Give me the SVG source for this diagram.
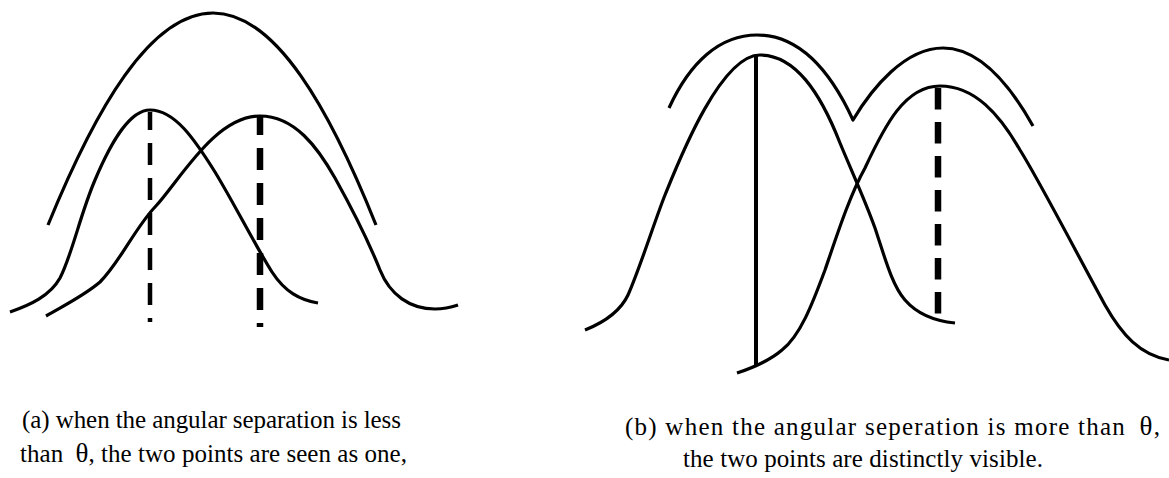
<svg xmlns="http://www.w3.org/2000/svg" width="1169" height="478" viewBox="0 0 1169 478">
<style>
.c{fill:none;stroke:#000;stroke-width:3.2;stroke-linecap:butt;stroke-linejoin:round}
.d{fill:none;stroke:#000;stroke-linecap:butt}
.t{font-family:"Liberation Serif","Times New Roman",serif;font-size:25px;fill:#000}
.g{font-size:27px}
</style>
<rect width="1169" height="478" fill="#fff"/>
<g id="panel-a">
  <g id="a-envelope"><path class="c" d="M48,225 C95,110 150,13 213,13 C276,13 330,110 376,225"/></g>
  <g id="a-left"><path class="c" d="M10,312 C30,305 50,296 60,278 C72,255 80,215 95,180 C112,140 130,110 150,110 C175,110 195,140 215,172 C235,205 255,245 272,272 C285,292 300,300 318,303"/></g>
  <g id="a-right"><path class="c" d="M46,316 C65,305 85,295 100,282 C120,262 135,228 155,207 C180,180 215,116 260,116 C295,116 318,148 335,178 C350,205 368,240 380,270 C390,295 410,309 435,309 C445,309 452,307 458,305"/></g>
</g>
<g id="panel-b">
  <g id="b-envelope"><path class="c" d="M669,108 C690,62 720,35 757,35 C800,35 830,70 853,120 C872,88 905,48 943,48 C980,48 1010,85 1033,126"/></g>
  <g id="b-left"><path class="c" d="M585,330 C605,322 620,312 628,295 C640,268 655,220 665,195 C678,163 720,55 760,55 C795,55 820,92 840,143 C852,172 865,200 875,228 C885,258 892,285 905,300 C918,315 935,321 955,323"/></g>
  <g id="b-right"><path class="c" d="M737,373 C752,368 768,362 782,350 C800,336 812,305 825,270 C838,232 850,195 865,168 C885,125 905,86 940,86 C975,86 1000,115 1020,150 C1040,182 1075,250 1105,305 C1122,335 1140,355 1169,360"/></g>
</g>
<g id="connectors">
  <line class="d" x1="150" y1="112" x2="150" y2="322" stroke-width="4.5" stroke-dasharray="22 13" stroke-dashoffset="4"/>
  <line class="d" x1="260" y1="116" x2="260" y2="327" stroke-width="6.5" stroke-dasharray="22 13" stroke-dashoffset="3"/>
  <line class="d" x1="756" y1="55" x2="756" y2="366" stroke-width="4"/>
  <line class="d" x1="938" y1="88" x2="938" y2="315" stroke-width="6.5" stroke-dasharray="21.5 12.5"/>
</g>
<g id="captions">
  <text class="t" x="22" y="428" textLength="379" lengthAdjust="spacing">(a) when the angular separation is less</text>
  <text class="t" x="20" y="462" textLength="387" lengthAdjust="spacing">than <tspan class="g" dx="6">θ</tspan>, the two points are seen as one,</text>
  <text class="t" x="625" y="435" textLength="535" lengthAdjust="spacing">(b) when the angular seperation is more than <tspan class="g" dx="6">θ</tspan>,</text>
  <text class="t" x="683" y="467" textLength="360" lengthAdjust="spacing">the two points are distinctly visible.</text>
</g>
</svg>
